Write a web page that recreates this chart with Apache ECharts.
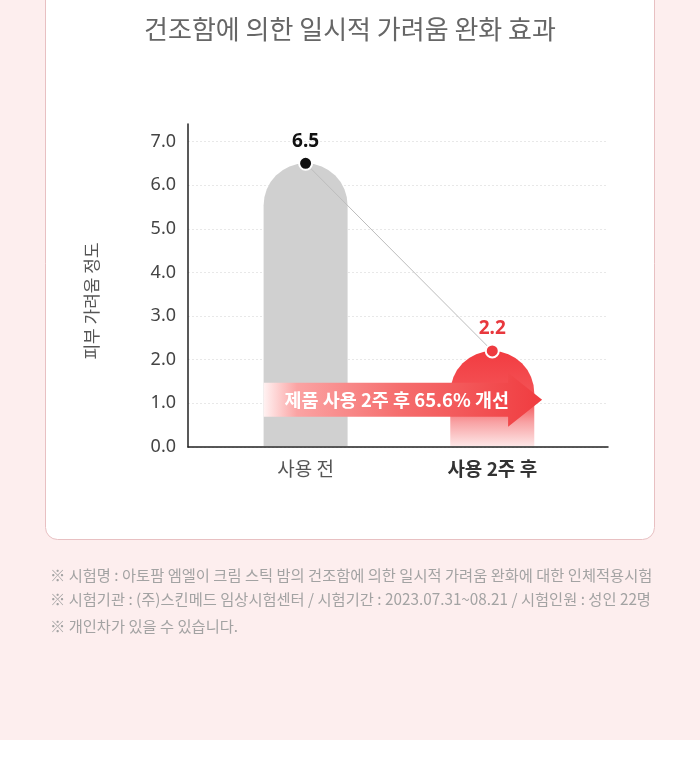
<!DOCTYPE html>
<html>
<head>
<meta charset="utf-8">
<script src="https://cdn.jsdelivr.net/npm/echarts@6/dist/echarts.min.js"></script>
<style>
  html, body { margin: 0; padding: 0; background: #fff; }
  #chart { width: 700px; height: 772px; }
</style>
</head>
<body>
<div id="chart"></div>
<script>
// 데이터
var categories = ["사용 전", "사용 2주 후"];
var itchValues = [6.5, 2.2];
var yTicks = { min: 0, max: 7.4, interval: 1 };
var arrowText = "제품 사용 2주 후 65.6% 개선";
// 화살표: [시작 x, y값, 끝 x] (데이터 좌표)
var arrowData = [[-0.225, 1.08, 1.267]];
var titleText = "건조함에 의한 일시적 가려움 완화 효과";
var yName = "피부 가려움 정도";
var notes = [
  "※ 시험명 : 아토팜 엠엘이 크림 스틱 밤의 건조함에 의한 일시적 가려움 완화에 대한 인체적용시험",
  "※ 시험기관 : (주)스킨메드 임상시험센터 / 시험기간 : 2023.07.31~08.21 / 시험인원 : 성인 22명",
  "※ 개인차가 있을 수 있습니다."
];

var font = "'Noto Sans CJK KR', 'Noto Sans', sans-serif";
var myChart = echarts.init(document.getElementById("chart"));

var barData = itchValues.map(function (v, i) { return [i, v]; });

var option = {
  backgroundColor: "#fff",
  textStyle: { fontFamily: font },
  animation: false,
  title: {
    text: titleText,
    left: "center",
    top: 11,
    textStyle: { fontSize: 26, fontWeight: "normal", color: "#666", fontFamily: font }
  },
  grid: { left: 188, right: 92, top: 124, bottom: 325 },
  xAxis: {
    type: "value",
    min: -0.63,
    max: 1.62,
    axisLine: { show: true, lineStyle: { color: "#222", width: 1.5 } },
    axisTick: { show: false },
    splitLine: { show: false },
    axisLabel: {
      customValues: [0, 1],
      margin: 12,
      formatter: function (v) {
        var i = Math.round(v);
        return i === 1 ? "{b|" + categories[i] + "}" : "{a|" + categories[i] + "}";
      },
      rich: {
        a: { fontSize: 19, color: "#555", fontFamily: font },
        b: { fontSize: 19, color: "#333", fontWeight: "bold", fontFamily: font }
      }
    }
  },
  yAxis: {
    type: "value",
    min: yTicks.min,
    max: yTicks.max,
    interval: yTicks.interval,
    axisLine: { show: true, onZero: false, lineStyle: { color: "#222", width: 1.5 } },
    axisTick: { show: false },
    axisLabel: {
      showMaxLabel: false,
      fontSize: 18,
      color: "#444",
      margin: 12,
      fontFamily: "'Noto Sans', sans-serif",
      formatter: function (v) { return v.toFixed(1); }
    },
    splitLine: {
      show: true,
      showMaxLine: false,
      lineStyle: { color: "#e8e8e8", type: [2, 2] }
    }
  },
  graphic: [
    { type: "rect", z: -10, silent: true, shape: { x: 0, y: 0, width: 700, height: 740 }, style: { fill: "#fdeeee" } },
    { type: "rect", z: -9, silent: true, shape: { x: 45.5, y: -20, width: 609, height: 559.5, r: 12 },
      style: { fill: "#fff", stroke: "#e8c0c2", lineWidth: 1 } },
    { type: "text", z: 5, x: 92, y: 301, rotation: Math.PI / 2,
      style: { text: yName, fontSize: 17, fill: "#555", fontFamily: font, align: "center", verticalAlign: "middle" } },
    { type: "text", z: 5, left: 50, top: 568, style: { text: notes[0], fontSize: 15.3, fill: "#a3a3a3", fontFamily: font } },
    { type: "text", z: 5, left: 50, top: 592, style: { text: notes[1], fontSize: 15.3, fill: "#a3a3a3", fontFamily: font } },
    { type: "text", z: 5, left: 50, top: 619, style: { text: notes[2], fontSize: 15.3, fill: "#a3a3a3", fontFamily: font } }
  ],
  series: [
    {
      // 막대 (위쪽 반원), 축선은 가리지 않음
      type: "custom",
      z: 2,
      data: barData,
      renderItem: function (params, api) {
        var top = api.coord([api.value(0), api.value(1)]);
        var base = api.coord([api.value(0), 0]);
        var w = api.size([0.45, 0])[0];
        var r = w / 2;
        var fill = api.value(0) === 0 ? "#d0d0d0" : new echarts.graphic.LinearGradient(0, 0, 0, 1, [
          { offset: 0, color: "#f23c41" },
          { offset: 0.55, color: "#f4575a" },
          { offset: 0.75, color: "#f8a2a4" },
          { offset: 1, color: "#fde6e6" }
        ]);
        return {
          type: "rect",
          shape: { x: top[0] - r, y: top[1], width: w, height: base[1] - top[1] - 1, r: [r, r, 0, 0] },
          style: { fill: fill }
        };
      }
    },
    {
      // 개선 화살표
      type: "custom",
      z: 4,
      data: arrowData,
      renderItem: function (params, api) {
        var s = api.coord([api.value(0), api.value(1)]);
        var t = api.coord([api.value(2), api.value(1)]);
        var cy = s[1], head = 34, hh = 17, ah = 27;
        return {
          type: "group",
          children: [
            {
              type: "polygon",
              shape: {
                points: [
                  [s[0], cy - hh], [t[0] - head, cy - hh], [t[0] - head, cy - ah], [t[0], cy],
                  [t[0] - head, cy + ah], [t[0] - head, cy + hh], [s[0], cy + hh]
                ]
              },
              style: {
                fill: new echarts.graphic.LinearGradient(0, 0, 1, 0, [
                  { offset: 0, color: "#fff2f2" },
                  { offset: 0.12, color: "#fba3a3" },
                  { offset: 0.5, color: "#f56c6c" },
                  { offset: 1, color: "#f03c40" }
                ])
              }
            },
            {
              type: "text",
              style: {
                x: s[0] + (t[0] - s[0]) * 0.478,
                y: cy,
                text: arrowText,
                fill: "#fff",
                fontSize: 18.5,
                fontWeight: "bold",
                fontFamily: font,
                align: "center",
                verticalAlign: "middle"
              }
            }
          ]
        };
      }
    },
    {
      // 연결선과 점
      type: "line",
      z: 5,
      data: [
        { value: barData[0], itemStyle: { color: "#111", borderColor: "#fff", borderWidth: 2 },
          label: { color: "#111" } },
        { value: barData[1], itemStyle: { color: "#ee3a3f", borderColor: "#fff", borderWidth: 2 },
          label: { color: "#e8383d" } }
      ],
      symbol: "circle",
      symbolSize: 13,
      lineStyle: { color: "#bdbdbd", width: 1 },
      label: {
        show: true,
        position: "top",
        distance: 5,
        fontSize: 19,
        fontWeight: "bold",
        fontFamily: "'Noto Sans', sans-serif",
        formatter: function (p) { return p.value[1].toFixed(1); }
      }
    }
  ]
};

option && myChart.setOption(option);
</script>
</body>
</html>
